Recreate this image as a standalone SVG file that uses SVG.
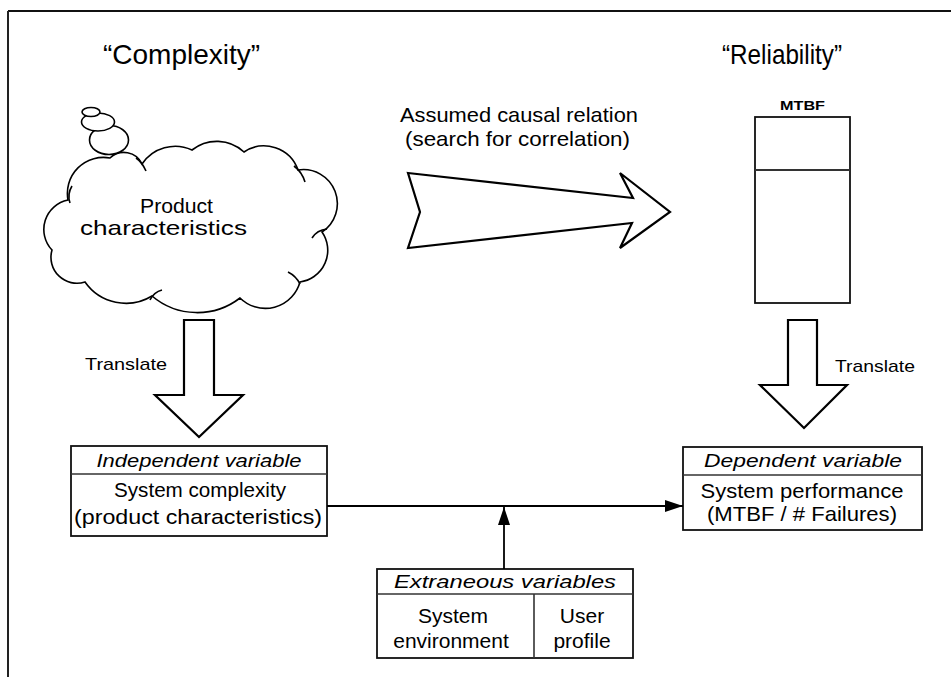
<svg xmlns="http://www.w3.org/2000/svg" width="951" height="677" viewBox="0 0 951 677">
  <defs>
    <marker id="head" markerUnits="userSpaceOnUse" markerWidth="18" markerHeight="12" refX="18" refY="6" orient="auto">
      <path d="M0,0 L18,6 L0,12 z" fill="#000"/>
    </marker>
    <style>
      text { font-family: "Liberation Sans", Arial, sans-serif; fill: #000; }
      .title { font-size: 28px; }
      .lbl { font-size: 21px; }
      .small { font-size: 17px; }
      .hdr { font-size: 19px; font-style: italic; }
      .mid { text-anchor: middle; }
      .line { fill: none; stroke: #000; stroke-width: 1.6; }
      .box { fill: #fff; stroke: #111; stroke-width: 1.8; }
      .div { stroke: #333; stroke-width: 1.3; }
      .block { fill: #fff; stroke: #000; stroke-width: 2.2; stroke-linejoin: miter; }
      .conn { fill: none; stroke: #000; stroke-width: 1.8; }
    </style>
  </defs>

  <rect width="951" height="677" fill="#fff"/>

  <!-- outer frame: top and left edges only -->
  <g id="frame">
    <line x1="8" y1="11" x2="951" y2="11" stroke="#111" stroke-width="2.2"/>
    <line x1="8" y1="11" x2="8" y2="677" stroke="#222" stroke-width="2"/>
  </g>

  <!-- headings -->
  <g id="titles">
    <text class="title" x="103" y="64">“Complexity”</text>
    <text class="title" x="722" y="64" textLength="120" lengthAdjust="spacingAndGlyphs">“Reliability”</text>
  </g>

  <!-- thought cloud -->
  <g id="cloud">
    <path class="line" style="fill:#fff" d="M68 200
      A36 36 0 0 1 110 158
      A20 20 0 0 1 142 164
      A40 40 0 0 1 192 150
      A40 40 0 0 1 244 152
      A36 36 0 0 1 298 170
      A34 34 0 0 1 322 232
      A32 32 0 0 1 300 282
      A36 36 0 0 1 240 298
      A70 70 0 0 1 152 296
      A50 50 0 0 1 85 282
      A26 26 0 0 1 52 250
      A30 30 0 0 1 68 200 Z"/>
    <path class="line" d="M136 158 Q142 162 146 171"/>
    <path class="line" d="M294 166 Q302 172 305 182"/>
    <path class="line" d="M327 229 Q317 230 312 238"/>
    <path class="line" d="M300 284 Q296 276 288 272"/>
    <path class="line" d="M150 300 Q154 292 162 290"/>
    <path class="line" d="M70 203 Q67 194 72 186"/>
    <ellipse class="line" style="fill:#fff" cx="109" cy="140" rx="19.5" ry="14.5"/>
    <ellipse class="line" style="fill:#fff" cx="98" cy="122" rx="16.5" ry="9"/>
    <ellipse class="line" style="fill:#fff" cx="91" cy="112" rx="9" ry="4.5"/>
    <text class="lbl" x="140" y="213" textLength="73" lengthAdjust="spacingAndGlyphs">Product</text>
    <text class="lbl" x="80" y="235" textLength="167" lengthAdjust="spacingAndGlyphs">characteristics</text>
  </g>

  <!-- causal relation arrow -->
  <g id="causal">
    <text class="lbl" x="400" y="122" textLength="238" lengthAdjust="spacingAndGlyphs">Assumed causal relation</text>
    <text class="lbl" x="405" y="146" textLength="225" lengthAdjust="spacingAndGlyphs">(search for correlation)</text>
    <polygon class="block" points="408,173 633,198 620,173 670,212 620,248 632,223 408,248 420,212"/>
  </g>

  <!-- MTBF bar -->
  <g id="mtbf">
    <text x="780" y="110" font-size="12" font-weight="bold" textLength="45" lengthAdjust="spacingAndGlyphs">MTBF</text>
    <rect class="box" x="755" y="117" width="95" height="186"/>
    <line class="div" x1="755" y1="170" x2="850" y2="170" style="stroke-width:1.8"/>
  </g>

  <!-- translate arrows -->
  <g id="translate-left">
    <polygon class="block" points="184,320 214,320 214,395 243,395 199,437 155,395 184,395"/>
    <text class="small" x="85" y="370" textLength="82" lengthAdjust="spacingAndGlyphs">Translate</text>
  </g>
  <g id="translate-right">
    <polygon class="block" points="788,320 817,320 817,385 847,385 804,428 760,385 788,385"/>
    <text class="small" x="835" y="372" textLength="80" lengthAdjust="spacingAndGlyphs">Translate</text>
  </g>

  <!-- variable boxes -->
  <g id="independent">
    <rect class="box" x="71" y="446" width="256" height="90"/>
    <line class="div" x1="71" y1="474" x2="327" y2="474"/>
    <text class="hdr mid" x="199" y="467" textLength="205" lengthAdjust="spacingAndGlyphs">Independent variable</text>
    <text class="lbl mid" x="200" y="497" textLength="172" lengthAdjust="spacingAndGlyphs">System complexity</text>
    <text class="lbl mid" x="198" y="524" textLength="248" lengthAdjust="spacingAndGlyphs">(product characteristics)</text>
  </g>

  <g id="dependent">
    <rect class="box" x="683" y="447" width="239" height="83"/>
    <line class="div" x1="683" y1="475" x2="922" y2="475"/>
    <text class="hdr mid" x="803" y="467" textLength="198" lengthAdjust="spacingAndGlyphs">Dependent variable</text>
    <text class="lbl mid" x="802" y="498" textLength="203" lengthAdjust="spacingAndGlyphs">System performance</text>
    <text class="lbl mid" x="802" y="521" textLength="190" lengthAdjust="spacingAndGlyphs">(MTBF / # Failures)</text>
  </g>

  <g id="extraneous">
    <rect class="box" x="377" y="569" width="256" height="89"/>
    <line class="div" x1="377" y1="594" x2="633" y2="594"/>
    <line class="div" x1="534" y1="594" x2="534" y2="658" style="stroke-width:1.6"/>
    <text class="hdr mid" x="505" y="588" textLength="222" lengthAdjust="spacingAndGlyphs">Extraneous variables</text>
    <text class="lbl mid" x="453" y="623">System</text>
    <text class="lbl mid" x="451" y="648">environment</text>
    <text class="lbl mid" x="582" y="623">User</text>
    <text class="lbl mid" x="582" y="648">profile</text>
  </g>

  <!-- connectors -->
  <g id="connectors">
    <line class="conn" x1="327" y1="506" x2="683" y2="506" marker-end="url(#head)"/>
    <line class="conn" x1="504" y1="569" x2="504" y2="507" marker-end="url(#head)"/>
  </g>
</svg>
